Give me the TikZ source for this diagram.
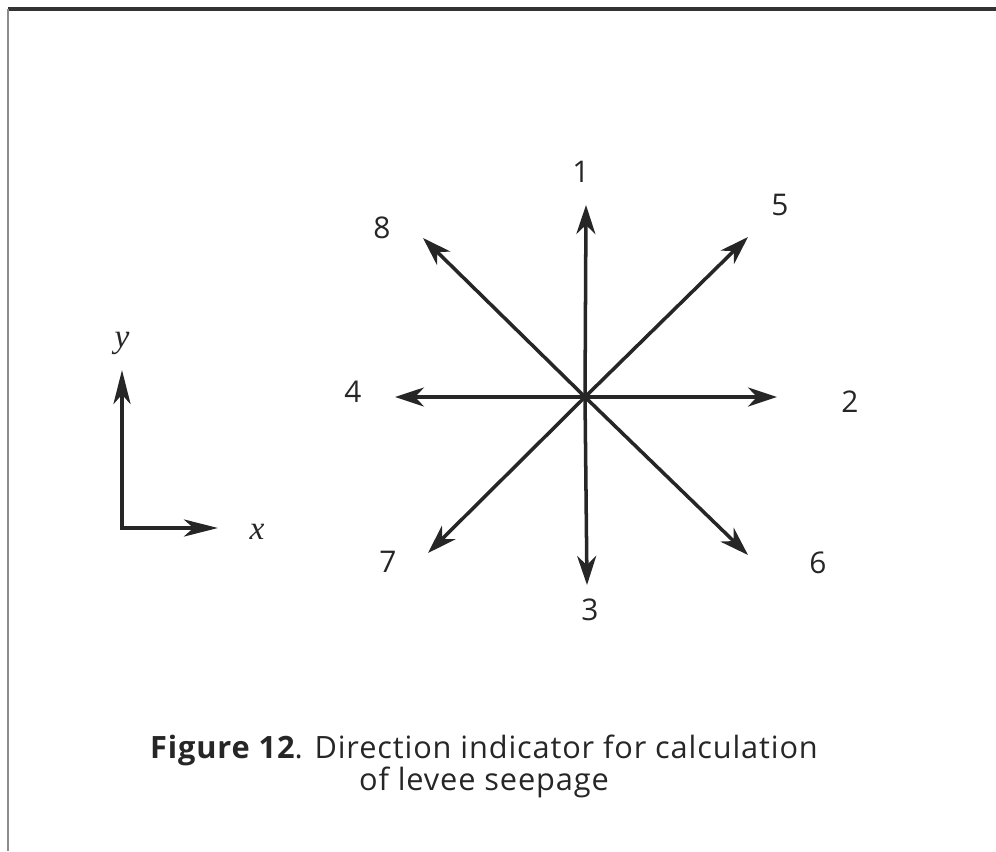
\documentclass[tikz,border=0pt]{standalone}
\usepackage{fontspec}
\setmainfont{Open Sans}
\newfontfamily\capfont[LetterSpace=2.8]{Open Sans}
\newfontfamily\varfont{Liberation Serif}
\usetikzlibrary{arrows.meta}

\begin{document}
\begin{tikzpicture}[
  x=0.02cm, y=-0.02cm,
  dir/.style={-{Stealth[length=5.8mm, width=3.8mm, inset=1.8mm]}, line width=2pt, black!85},
  axis/.style={{Stealth[length=6.8mm, width=3.4mm, inset=1.9mm]}-{Stealth[length=6.8mm, width=3.4mm, inset=1.9mm]}, line width=2.5pt, black!85},
  num/.style={font=\fontsize{17}{19}\selectfont, inner sep=0pt, black!85},
  var/.style={font=\varfont\itshape\fontsize{19}{21}\selectfont, inner sep=0pt, black!85},
  caption/.style={align=center, font=\capfont\fontsize{17.5}{18.2}\selectfont, black!85},
]
\useasboundingbox (0,0) rectangle (996,851);
% ---------------- frame (top rule and left rule)
\draw[black!80, line width=2pt] (8,9) -- (996,9);
\draw[black!45, line width=1pt] (8,9) -- (8,851);
% ---------------- direction star
\coordinate (o) at (585,397);
\foreach \n/\tx/\ty/\lx/\ly in {1/586/205/581/172, 2/777/397/850/402, 3/587/585/590/610, 4/395/397/353/392,
                               5/748/237/780/205, 6/748/555/818/563, 7/428/553/388/562, 8/423/238/382/228} {
  \coordinate (t\n) at (\tx,\ty);
  \draw[dir] (o) -- (t\n);
  \node[num] (n\n) at (\lx,\ly) {\n};
}
% ---------------- x-y axes
\coordinate (org) at (122,528);
\coordinate (xt) at (218,528);
\coordinate (yt) at (122,370);
\draw[axis] (yt) -- (org) -- (xt);
\node[var] (ylab) at (122,343) {y};
\node[var] (xlab) at (257,532) {x};
% ---------------- caption
\node[caption] (cap) at (484,766) {\textbf{Figure 12}. Direction indicator for calculation\\of levee seepage};
\end{tikzpicture}
\end{document}
